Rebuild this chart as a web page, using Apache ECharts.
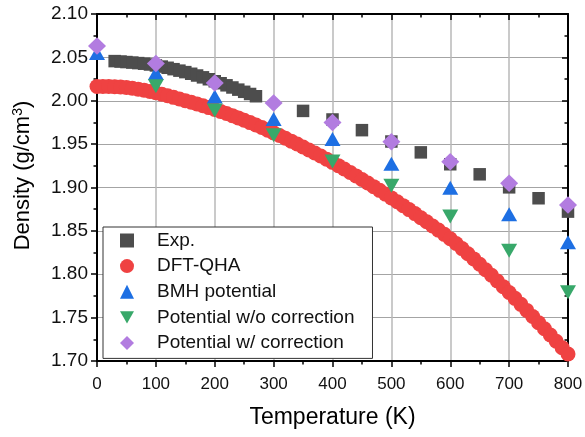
<!DOCTYPE html>
<html>
<head>
<meta charset="utf-8">
<script src="https://cdn.jsdelivr.net/npm/echarts/dist/echarts.min.js"></script>
<style>
  html, body { margin: 0; padding: 0; background: #fff; }
  #chart { width: 585px; height: 437px; }
</style>
</head>
<body>
<div id="chart"></div>
<script>
// Experimental density (g/cm3) vs temperature (K)
const expTemp = [30, 40, 50, 60, 70, 80, 90, 100, 110, 120, 130, 140, 150, 160, 170, 180, 190, 200,
  210, 220, 230, 240, 250, 260, 270, 350, 400, 450, 500, 550, 600, 650, 700, 750, 800];
const expDensity = [2.0457, 2.0452, 2.0446, 2.0440, 2.0434, 2.0427, 2.0418, 2.0407, 2.0394, 2.0380,
  2.0364, 2.0347, 2.0330, 2.0311, 2.0291, 2.0270, 2.0248, 2.0225, 2.0202, 2.0178, 2.0153, 2.0128,
  2.0103, 2.0078, 2.0052, 1.9883, 1.9784, 1.9661, 1.9530, 1.9405, 1.9268, 1.9152, 1.9002, 1.8876, 1.8722];

// DFT quasi-harmonic approximation
const dftTemp = [0, 10, 20, 30, 40, 50, 60, 70, 80, 90, 100, 110, 120, 130, 140, 150, 160, 170, 180, 190,
  200, 210, 220, 230, 240, 250, 260, 270, 280, 290, 300, 310, 320, 330, 340, 350, 360, 370, 380, 390,
  400, 410, 420, 430, 440, 450, 460, 470, 480, 490, 500, 510, 520, 530, 540, 550, 560, 570, 580, 590,
  600, 610, 620, 630, 640, 650, 660, 670, 680, 690, 700, 710, 720, 730, 740, 750, 760, 770, 780, 790, 800];
const dftDensity = [2.0165, 2.0165, 2.0164, 2.0162, 2.0158, 2.0152, 2.0144, 2.0134, 2.0122, 2.0108,
  2.0092, 2.0075, 2.0057, 2.0039, 2.0020, 2.0001, 1.9982, 1.9962, 1.9942, 1.9921,
  1.9900, 1.9877, 1.9853, 1.9828, 1.9802, 1.9775, 1.9748, 1.9720, 1.9691, 1.9661,
  1.9630, 1.9599, 1.9567, 1.9534, 1.9501, 1.9467, 1.9433, 1.9398, 1.9363, 1.9327,
  1.9290, 1.9252, 1.9213, 1.9174, 1.9134, 1.9093, 1.9052, 1.9010, 1.8967, 1.8924,
  1.8880, 1.8836, 1.8791, 1.8745, 1.8699, 1.8652, 1.8605, 1.8557, 1.8509, 1.8460,
  1.8410, 1.8354, 1.8296, 1.8237, 1.8177, 1.8115, 1.8052, 1.7988, 1.7923, 1.7857,
  1.7790, 1.7722, 1.7653, 1.7583, 1.7513, 1.7442, 1.7371, 1.7299, 1.7227, 1.7154, 1.7080];

// Simulation temperatures and results for the three potentials
const simTemp = [0, 100, 200, 300, 400, 500, 600, 700, 800];
const bmhDensity = [2.055, 2.032, 2.005, 1.979, 1.956, 1.9274, 1.8997, 1.8693, 1.8368];
const noCorrTemp = [100, 200, 300, 400, 500, 600, 700, 800];
const noCorrDensity = [2.0167, 1.9887, 1.9603, 1.930, 1.902, 1.8667, 1.8272, 1.7793];
const corrDensity = [2.063, 2.0428, 2.0205, 1.9975, 1.9749, 1.9526, 1.9297, 1.9048, 1.8799];

const seriesNames = ['Exp.', 'DFT-QHA', 'BMH potential', 'Potential w/o correction', 'Potential w/ correction'];

// Axis ranges and tick spacing
const xMin = 0, xMax = 800, xStep = 100;
const yMin = 1.70, yMax = 2.10, yStep = 0.05;

const pairs = (xs, ys) => xs.map((x, i) => [x, ys[i]]);

const FONT = '"Liberation Sans", Arial, sans-serif';
const AXIS_COLOR = '#000';
// Downward-pointing triangle, used both on the plot and in the legend
const DOWN_TRIANGLE = 'path://M0,0L20,0L10,17.5Z';

const chart = echarts.init(document.getElementById('chart'), null, { renderer: 'canvas' });

const frameAxis = {
  axisLine: { show: true, onZero: false, lineStyle: { color: AXIS_COLOR, width: 2 } },
  splitLine: { show: false },
  minorSplitLine: { show: false }
};

chart.setOption({
  animation: false,
  backgroundColor: '#fff',
  grid: { left: 97, right: 17, top: 14, bottom: 76, containLabel: false, outerBoundsMode: 'none' },
  xAxis: [
    Object.assign({}, frameAxis, {
      type: 'value', min: xMin, max: xMax, interval: xStep, position: 'bottom',
      name: 'Temperature (K)', nameLocation: 'middle', nameGap: 45,
      nameTextStyle: { fontFamily: FONT, fontSize: 23, color: '#000' },
      axisTick: { show: true, inside: false, length: 6, lineStyle: { color: AXIS_COLOR, width: 1.5 } },
      minorTick: { show: true, splitNumber: 2, length: 3.5, lineStyle: { color: AXIS_COLOR, width: 1.5 } },
      axisLabel: { show: true, margin: 15, fontFamily: FONT, fontSize: 17, color: '#111' },
      splitLine: { show: true, lineStyle: { color: '#b8b8b8', width: 1.5 } }
    }),
    Object.assign({}, frameAxis, {
      type: 'value', min: xMin, max: xMax, interval: xStep, position: 'top',
      axisTick: { show: true, inside: true, length: 6, lineStyle: { color: AXIS_COLOR, width: 1.5 } },
      minorTick: { show: true, splitNumber: 2, length: 3.5, lineStyle: { color: AXIS_COLOR, width: 1.5 } },
      axisLabel: { show: false }
    })
  ],
  yAxis: [
    Object.assign({}, frameAxis, {
      type: 'value', min: yMin, max: yMax, interval: yStep, position: 'left',
      name: 'Density (g/cm{sup|3})', nameLocation: 'middle', nameGap: 62,
      nameTextStyle: {
        fontFamily: FONT, fontSize: 22, color: '#000', lineHeight: 24, padding: [0, 0, 0, 24],
        rich: { sup: { fontFamily: FONT, fontSize: 14, verticalAlign: 'top', lineHeight: 24, color: '#000' } }
      },
      axisTick: { show: true, inside: false, length: 6, lineStyle: { color: AXIS_COLOR, width: 1.5 } },
      minorTick: { show: true, splitNumber: 2, length: 3.5, lineStyle: { color: AXIS_COLOR, width: 1.5 } },
      axisLabel: { show: true, margin: 9, fontFamily: FONT, fontSize: 19, color: '#111',
        formatter: v => v.toFixed(2) },
      splitLine: { show: true, lineStyle: { color: '#a4a4a4', width: 1.2 } }
    }),
    Object.assign({}, frameAxis, {
      type: 'value', min: yMin, max: yMax, interval: yStep, position: 'right',
      axisTick: { show: true, inside: true, length: 6, lineStyle: { color: AXIS_COLOR, width: 1.5 } },
      minorTick: { show: true, splitNumber: 2, length: 3.5, lineStyle: { color: AXIS_COLOR, width: 1.5 } },
      axisLabel: { show: false }
    })
  ],
  legend: {
    orient: 'vertical', left: 103, top: 227,
    padding: [4, 18, 6, 17],
    itemWidth: 14, itemHeight: 14, itemGap: 6.6,
    backgroundColor: '#fff', borderColor: '#333', borderWidth: 1, borderRadius: 0,
    textStyle: { fontFamily: FONT, fontSize: 19, color: '#111', lineHeight: 18, padding: [0, 0, 0, 18] },
    data: seriesNames
  },
  series: [
    {
      name: seriesNames[0], type: 'scatter', clip: true,
      symbol: 'rect', symbolSize: 12.5,
      itemStyle: { color: '#4d4d4d', opacity: 1 },
      data: pairs(expTemp, expDensity)
    },
    {
      name: seriesNames[1], type: 'scatter', clip: true,
      symbol: 'circle', symbolSize: 15,
      itemStyle: { color: '#ef4242', opacity: 1 },
      data: pairs(dftTemp, dftDensity)
    },
    {
      name: seriesNames[2], type: 'scatter', clip: true,
      symbol: 'triangle', symbolSize: [16, 14],
      itemStyle: { color: '#1d6fe3', opacity: 1 },
      data: pairs(simTemp, bmhDensity)
    },
    {
      name: seriesNames[3], type: 'scatter', clip: true,
      symbol: DOWN_TRIANGLE, symbolSize: [16, 14],
      itemStyle: { color: '#38a86a', opacity: 1 },
      data: pairs(noCorrTemp, noCorrDensity)
    },
    {
      name: seriesNames[4], type: 'scatter', clip: true,
      symbol: 'diamond', symbolSize: [18, 17.5],
      itemStyle: { color: '#b27ce0', opacity: 1 },
      data: pairs(simTemp, corrDensity)
    }
  ]
});
</script>
</body>
</html>
